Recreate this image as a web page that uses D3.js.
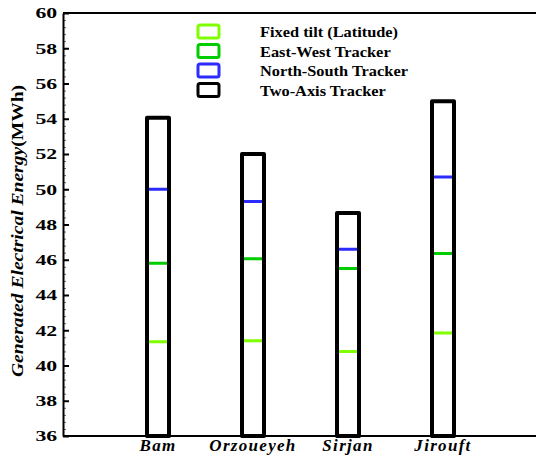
<!DOCTYPE html>
<html>
<head>
<meta charset="utf-8">
<script src="https://cdn.jsdelivr.net/npm/d3@7"></script>
<style>
	body { margin: 0; background: #fff; }
	svg { display: block; }
	text { font-family: "Liberation Serif", "Times New Roman", serif; font-weight: bold; }
</style>
</head>
<body>
<svg width="536" height="457"></svg>
<script>

// chart values
const sites = ['Bam', 'Orzoueyeh', 'Sirjan', 'Jirouft'];
const fixedTilt = [41.35, 41.4, 40.8, 41.85];
const eastWest = [45.8, 46.05, 45.5, 46.35];
const northSouth = [50.0, 49.3, 46.6, 50.7];
const twoAxis = [54.05, 52.0, 48.65, 55.0];
const seriesNames = ['Fixed tilt (Latitude)', 'East-West Tracker', 'North-South Tracker', 'Two-Axis Tracker'];
const seriesColors = ['#80ff00', '#00cc00', '#2b2bff', '#000000'];
const yTicks = [36, 38, 40, 42, 44, 46, 48, 50, 52, 54, 56, 58, 60];

let svg = d3.select('svg');
let plotLeft = 63, plotTop = 13, plotBottom = 436, plotRight = 536;

let x = d3.scalePoint().domain(sites).range([158, 443]);
let y = d3.scaleLinear().domain([36, 60]).range([plotBottom, plotTop]);

// minor ticks
let minor = d3.range(36, 60.01, 0.4);
svg.append('g')
	.attr('transform', 'translate(' + plotLeft + ',0)')
	.call(d3.axisLeft(y).tickValues(minor).tickSize(-3).tickFormat(''))
	.call(g => g.select('.domain').remove())
	.selectAll('line').attr('stroke', '#666').attr('stroke-width', 1);

// major ticks + labels (the original font is wide, so stretch it sideways)
let yAxis = svg.append('g')
	.attr('transform', 'translate(' + plotLeft + ',0)')
	.call(d3.axisLeft(y).tickValues(yTicks).tickSize(-6).tickPadding(4).tickSizeOuter(0));
yAxis.select('.domain').attr('stroke-width', 2);
yAxis.selectAll('line').attr('stroke-width', 2);
yAxis.selectAll('text').attr('font-size', 15).attr('fill', '#000')
	.attr('transform', 'scale(1.45,1)')
	.style('font-family', '"Liberation Serif", serif').style('font-weight', 'bold');

// frame top
svg.append('line').attr('x1', plotLeft).attr('x2', plotRight).attr('y1', y(60)).attr('y2', y(60))
	.attr('stroke', '#000').attr('stroke-width', 2);

// bars: outlines drawn from 36 up, black last so sides cover the coloured ones
let barW = 22;
let series = [fixedTilt, eastWest, northSouth, twoAxis];
series.forEach(function(vals, s) {
	svg.append('g').selectAll('rect').data(vals).enter().append('rect')
		.attr('x', (d, i) => x(sites[i]) - barW / 2)
		.attr('y', d => y(d))
		.attr('width', barW)
		.attr('height', d => y(36) - y(d))
		.attr('fill', 'none')
		.attr('stroke', seriesColors[s])
		.attr('stroke-width', s == 3 ? 4 : 3)
		.attr('stroke-linejoin', 'round');
});

// bottom axis line over bar ends
svg.append('line').attr('x1', plotLeft).attr('x2', plotRight).attr('y1', y(36)).attr('y2', y(36))
	.attr('stroke', '#000').attr('stroke-width', 2);

// category labels
svg.append('g').selectAll('text').data(sites).enter().append('text')
	.attr('x', d => x(d))
	.attr('y', 451)
	.attr('text-anchor', 'middle')
	.attr('font-size', 17)
	.attr('font-style', 'italic')
	.attr('letter-spacing', 1.3)
	.text(d => d);

// y title
let title = svg.append('text')
	.attr('transform', 'translate(23,231) rotate(-90) scale(1.2,1)')
	.attr('text-anchor', 'middle')
	.attr('font-size', 16.3);
title.append('tspan').attr('font-style', 'italic').text('Generated Electrical Energy');
title.append('tspan').text('(MWh)');

// legend
let legend = svg.append('g').selectAll('g').data(seriesNames).enter().append('g')
	.attr('transform', (d, i) => 'translate(198,' + (25 + i * 19.5) + ')');
legend.append('rect')
	.attr('x', 0).attr('y', 0).attr('width', 21).attr('height', 13)
	.attr('rx', 2)
	.attr('fill', 'none')
	.attr('stroke', (d, i) => seriesColors[i])
	.attr('stroke-width', 3);
legend.append('text')
	.attr('transform', 'translate(62,12) scale(1.12,1)')
	.attr('font-size', 14.6)
	.text(d => d);

</script>
</body>
</html>
